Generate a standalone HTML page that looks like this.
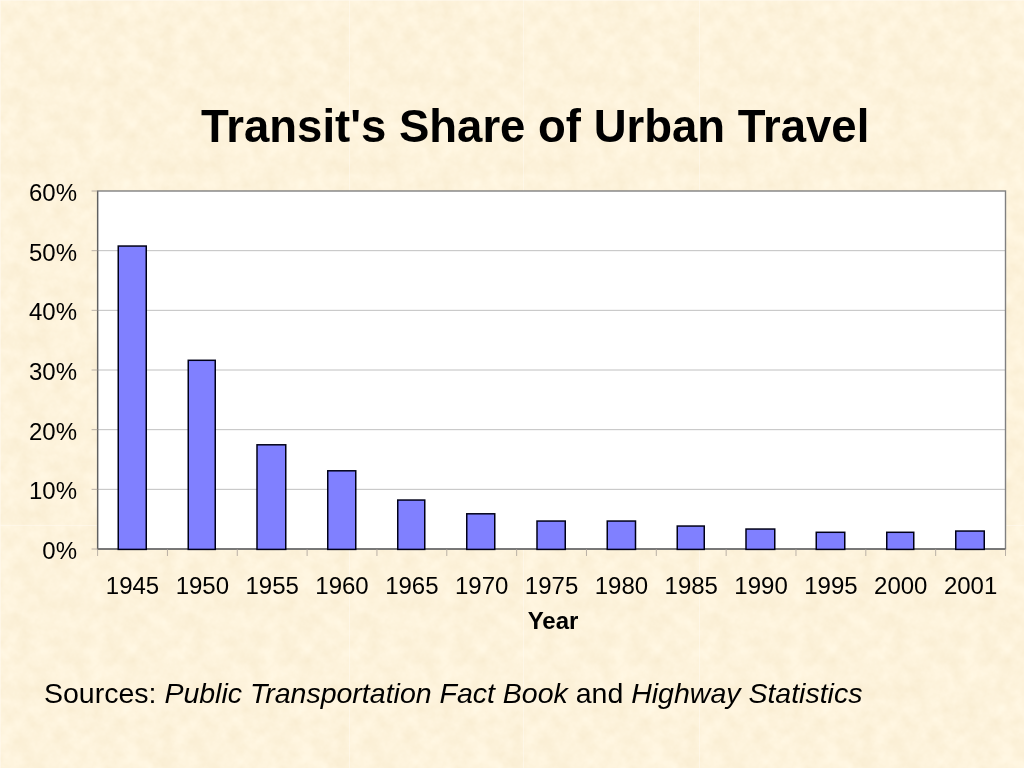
<!DOCTYPE html>
<html lang="en">
<head>
<meta charset="utf-8">
<title>Transit's Share of Urban Travel</title>
<style>
html,body{margin:0;padding:0;}
body{width:1024px;height:768px;overflow:hidden;background:#fdf2da;position:relative;font-family:"Liberation Sans",Arial,Helvetica,sans-serif;color:#000;}
#title{position:absolute;z-index:2;left:0;top:101px;width:1024px;margin:0;font-size:45.5px;font-weight:bold;line-height:52px;white-space:nowrap;}
#title span{position:absolute;left:201px;}
#src{position:absolute;z-index:2;left:44px;top:676px;margin:0;font-size:28.5px;line-height:34px;white-space:nowrap;}
svg{position:absolute;left:0;top:0;}
.ax{font-family:"Liberation Sans",Arial,Helvetica,sans-serif;font-size:24px;fill:#000;}
</style>
</head>
<body>
<h1 id="title"><span>Transit's Share of Urban Travel</span></h1>
<svg width="1024" height="768" viewBox="0 0 1024 768">
<defs>
<filter id="parch" x="0" y="0" width="1024" height="768" filterUnits="userSpaceOnUse" color-interpolation-filters="sRGB">
<feTurbulence type="fractalNoise" baseFrequency="0.055" numOctaves="4" seed="7" stitchTiles="stitch" x="0" y="0" width="175" height="175" result="n"/>
<feColorMatrix in="n" type="matrix" x="0" y="0" width="175" height="175" values="0.04 0 0 0 0.972  0.06 0 0 0 0.921  0.10 0 0 0 0.809  0 0 0 0 1" result="c"/>
<feTile in="c"/>
</filter>
</defs>
<rect x="0" y="0" width="1024" height="768" fill="#fcf1d8" filter="url(#parch)"/>
<g stroke="#fffaf0" stroke-opacity="0.55" stroke-width="1">
<line x1="0.5" y1="0" x2="0.5" y2="768"/><line x1="0" y1="0.5" x2="1024" y2="0.5"/>
<line x1="349.5" y1="0" x2="349.5" y2="768"/><line x1="523.5" y1="0" x2="523.5" y2="768"/><line x1="699.5" y1="0" x2="699.5" y2="768"/>
<line x1="0" y1="525.5" x2="1024" y2="525.5"/>
</g>
<rect x="97.6" y="191.0" width="907.9" height="358.0" fill="#ffffff"/>
<line x1="97.6" y1="489.33" x2="1005.5" y2="489.33" stroke="#c0c0c0" stroke-width="1"/>
<line x1="97.6" y1="429.67" x2="1005.5" y2="429.67" stroke="#c0c0c0" stroke-width="1"/>
<line x1="97.6" y1="370.00" x2="1005.5" y2="370.00" stroke="#c0c0c0" stroke-width="1"/>
<line x1="97.6" y1="310.33" x2="1005.5" y2="310.33" stroke="#c0c0c0" stroke-width="1"/>
<line x1="97.6" y1="250.67" x2="1005.5" y2="250.67" stroke="#c0c0c0" stroke-width="1"/>
<rect x="97.6" y="191.0" width="907.9" height="358.0" fill="none" stroke="#808080" stroke-width="1.4"/>
<line x1="97.6" y1="191.0" x2="97.6" y2="549.0" stroke="#606060" stroke-width="1.2"/>
<line x1="97.6" y1="549.0" x2="1005.5" y2="549.0" stroke="#686868" stroke-width="1.3"/>
<line x1="91.6" y1="549.00" x2="97.6" y2="549.00" stroke="#a8a098" stroke-width="0.8"/>
<line x1="91.6" y1="489.33" x2="97.6" y2="489.33" stroke="#a8a098" stroke-width="0.8"/>
<line x1="91.6" y1="429.67" x2="97.6" y2="429.67" stroke="#a8a098" stroke-width="0.8"/>
<line x1="91.6" y1="370.00" x2="97.6" y2="370.00" stroke="#a8a098" stroke-width="0.8"/>
<line x1="91.6" y1="310.33" x2="97.6" y2="310.33" stroke="#a8a098" stroke-width="0.8"/>
<line x1="91.6" y1="250.67" x2="97.6" y2="250.67" stroke="#a8a098" stroke-width="0.8"/>
<line x1="91.6" y1="191.00" x2="97.6" y2="191.00" stroke="#a8a098" stroke-width="0.8"/>
<line x1="97.60" y1="549.0" x2="97.60" y2="556.0" stroke="#a8a098" stroke-width="0.8"/>
<line x1="167.44" y1="549.0" x2="167.44" y2="556.0" stroke="#a8a098" stroke-width="0.8"/>
<line x1="237.28" y1="549.0" x2="237.28" y2="556.0" stroke="#a8a098" stroke-width="0.8"/>
<line x1="307.12" y1="549.0" x2="307.12" y2="556.0" stroke="#a8a098" stroke-width="0.8"/>
<line x1="376.95" y1="549.0" x2="376.95" y2="556.0" stroke="#a8a098" stroke-width="0.8"/>
<line x1="446.79" y1="549.0" x2="446.79" y2="556.0" stroke="#a8a098" stroke-width="0.8"/>
<line x1="516.63" y1="549.0" x2="516.63" y2="556.0" stroke="#a8a098" stroke-width="0.8"/>
<line x1="586.47" y1="549.0" x2="586.47" y2="556.0" stroke="#a8a098" stroke-width="0.8"/>
<line x1="656.31" y1="549.0" x2="656.31" y2="556.0" stroke="#a8a098" stroke-width="0.8"/>
<line x1="726.15" y1="549.0" x2="726.15" y2="556.0" stroke="#a8a098" stroke-width="0.8"/>
<line x1="795.98" y1="549.0" x2="795.98" y2="556.0" stroke="#a8a098" stroke-width="0.8"/>
<line x1="865.82" y1="549.0" x2="865.82" y2="556.0" stroke="#a8a098" stroke-width="0.8"/>
<line x1="935.66" y1="549.0" x2="935.66" y2="556.0" stroke="#a8a098" stroke-width="0.8"/>
<line x1="1005.50" y1="549.0" x2="1005.50" y2="556.0" stroke="#a8a098" stroke-width="0.8"/>
<rect x="118.25" y="246.05" width="28.00" height="303.35" fill="#8080ff" stroke="#000018" stroke-width="1.5"/>
<rect x="188.25" y="360.30" width="27.00" height="189.10" fill="#8080ff" stroke="#000018" stroke-width="1.5"/>
<rect x="257.00" y="444.80" width="28.75" height="104.60" fill="#8080ff" stroke="#000018" stroke-width="1.5"/>
<rect x="327.75" y="470.80" width="28.00" height="78.60" fill="#8080ff" stroke="#000018" stroke-width="1.5"/>
<rect x="397.75" y="500.05" width="27.00" height="49.35" fill="#8080ff" stroke="#000018" stroke-width="1.5"/>
<rect x="466.75" y="513.80" width="28.00" height="35.60" fill="#8080ff" stroke="#000018" stroke-width="1.5"/>
<rect x="537.00" y="521.05" width="28.25" height="28.35" fill="#8080ff" stroke="#000018" stroke-width="1.5"/>
<rect x="607.25" y="521.05" width="28.25" height="28.35" fill="#8080ff" stroke="#000018" stroke-width="1.5"/>
<rect x="677.25" y="526.05" width="27.00" height="23.35" fill="#8080ff" stroke="#000018" stroke-width="1.5"/>
<rect x="746.00" y="529.05" width="28.75" height="20.35" fill="#8080ff" stroke="#000018" stroke-width="1.5"/>
<rect x="816.25" y="532.30" width="28.50" height="17.10" fill="#8080ff" stroke="#000018" stroke-width="1.5"/>
<rect x="886.75" y="532.30" width="27.00" height="17.10" fill="#8080ff" stroke="#000018" stroke-width="1.5"/>
<rect x="955.75" y="531.05" width="28.50" height="18.35" fill="#8080ff" stroke="#000018" stroke-width="1.5"/>
<text x="77" y="559.00" text-anchor="end" class="ax">0%</text>
<text x="77" y="499.33" text-anchor="end" class="ax">10%</text>
<text x="77" y="439.67" text-anchor="end" class="ax">20%</text>
<text x="77" y="380.00" text-anchor="end" class="ax">30%</text>
<text x="77" y="320.33" text-anchor="end" class="ax">40%</text>
<text x="77" y="260.67" text-anchor="end" class="ax">50%</text>
<text x="77" y="201.00" text-anchor="end" class="ax">60%</text>
<text x="132.52" y="594" text-anchor="middle" class="ax">1945</text>
<text x="202.36" y="594" text-anchor="middle" class="ax">1950</text>
<text x="272.20" y="594" text-anchor="middle" class="ax">1955</text>
<text x="342.03" y="594" text-anchor="middle" class="ax">1960</text>
<text x="411.87" y="594" text-anchor="middle" class="ax">1965</text>
<text x="481.71" y="594" text-anchor="middle" class="ax">1970</text>
<text x="551.55" y="594" text-anchor="middle" class="ax">1975</text>
<text x="621.39" y="594" text-anchor="middle" class="ax">1980</text>
<text x="691.23" y="594" text-anchor="middle" class="ax">1985</text>
<text x="761.07" y="594" text-anchor="middle" class="ax">1990</text>
<text x="830.90" y="594" text-anchor="middle" class="ax">1995</text>
<text x="900.74" y="594" text-anchor="middle" class="ax">2000</text>
<text x="970.58" y="594" text-anchor="middle" class="ax">2001</text>
<text x="553" y="629" text-anchor="middle" class="ax" font-weight="bold">Year</text>
</svg>
<p id="src">Sources: <i>Public Transportation Fact Book</i> and <i>Highway Statistics</i></p>
</body>
</html>
